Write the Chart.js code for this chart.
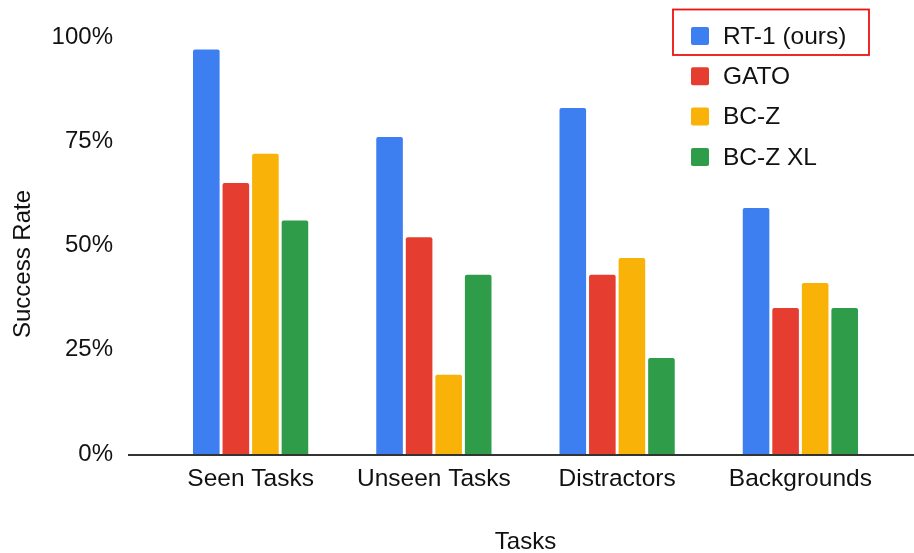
<!DOCTYPE html>
<html>
<head>
<meta charset="utf-8">
<script src="https://cdn.jsdelivr.net/npm/chart.js@4/dist/chart.umd.min.js"></script>
<style>
  html, body { margin: 0; padding: 0; background: #fff; }
  #wrap { width: 914px; height: 553px; }
</style>
</head>
<body>
<div id="wrap"><canvas id="chart" width="914" height="553"></canvas></div>
<script>
const tasks = ['Seen Tasks', 'Unseen Tasks', 'Distractors', 'Backgrounds'];
const rt1 = [97, 76, 83, 59];
const gato = [65, 52, 43, 35];
const bcz = [72, 19, 47, 41];
const bczXL = [56, 43, 23, 35];
const yTicks = [0, 25, 50, 75, 100];
const yTitle = 'Success Rate';

const FONT = '"Liberation Sans", Arial, Helvetica, sans-serif';
const TEXT = '#111';

// baseline runs past the plot area, like the original
const baseline = {
    id: 'baseline',
    afterDatasetsDraw(chart) {
        const { ctx } = chart;
        const y = chart.scales.y.getPixelForValue(0);
        ctx.save();
        ctx.strokeStyle = '#333';
        ctx.lineWidth = 2;
        ctx.beginPath();
        ctx.moveTo(128, y + 1);
        ctx.lineTo(chart.width, y + 1);
        ctx.stroke();
        ctx.restore();
    }
};

// y title sits a bit below the plot middle in the original
const sideTitle = {
    id: 'sideTitle',
    afterDraw(chart) {
        const { ctx } = chart;
        ctx.save();
        ctx.translate(23, 264);
        ctx.rotate(-Math.PI / 2);
        ctx.font = '24px ' + FONT;
        ctx.fillStyle = TEXT;
        ctx.textAlign = 'center';
        ctx.textBaseline = 'middle';
        ctx.fillText(yTitle, 0, 0);
        ctx.restore();
    }
};

// legend in the top right, first entry boxed in red
const cornerLegend = {
    id: 'cornerLegend',
    afterDraw(chart) {
        const { ctx } = chart;
        ctx.save();
        ctx.font = '24.5px ' + FONT;
        ctx.textBaseline = 'middle';
        chart.data.datasets.forEach((ds, i) => {
            const cy = 36 + i * 40.3;
            ctx.fillStyle = ds.backgroundColor;
            ctx.beginPath();
            ctx.roundRect(691, cy - 9, 18, 18, 2);
            ctx.fill();
            ctx.fillStyle = TEXT;
            ctx.fillText(ds.label, 723, cy + 1);
        });
        ctx.strokeStyle = '#ee1111';
        ctx.lineWidth = 1.8;
        ctx.strokeRect(673, 9.5, 196, 45.5);
        ctx.restore();
    }
};

const bar = (label, data, color) => ({
    label,
    data,
    backgroundColor: color,
    borderRadius: { topLeft: 2, topRight: 2 },
    borderSkipped: 'start',
    barPercentage: 0.9,
    categoryPercentage: 0.645
});

new Chart(document.getElementById('chart'), {
    type: 'bar',
    data: {
        labels: tasks,
        datasets: [
            bar('RT-1 (ours)', rt1, '#3d7ef1'),
            bar('GATO', gato, '#e63d31'),
            bar('BC-Z', bcz, '#f9b207'),
            bar('BC-Z XL', bczXL, '#2f9c49')
        ]
    },
    options: {
        responsive: false,
        animation: false,
        layout: { padding: { top: 37, right: 22, left: 0, bottom: 0 } },
        plugins: {
            legend: { display: false },
            tooltip: { enabled: false }
        },
        scales: {
            x: {
                grid: { display: false, drawTicks: false },
                border: { display: false },
                ticks: { color: TEXT, font: { family: FONT, size: 24.5 }, padding: 11, maxRotation: 0 },
                title: {
                    display: true,
                    text: 'Tasks',
                    color: TEXT,
                    font: { family: FONT, size: 24, lineHeight: 1 },
                    padding: { top: 0, bottom: -1 }
                },
                afterFit(scale) { scale.height = 553 - 454; }
            },
            y: {
                min: 0,
                max: 100,
                afterBuildTicks(scale) { scale.ticks = yTicks.map(v => ({ value: v })); },
                grid: { display: false, drawTicks: false },
                border: { display: false },
                ticks: {
                    color: TEXT,
                    font: { family: FONT, size: 24 },
                    padding: 46,
                    callback: v => v + '%'
                },
                afterFit(scale) {
                    scale.width = 159;
                    // tick padding would otherwise push the plot top down
                    scale.paddingTop = 0;
                    scale.paddingBottom = 0;
                }
            }
        }
    },
    plugins: [baseline, sideTitle, cornerLegend]
});
</script>
</body>
</html>
